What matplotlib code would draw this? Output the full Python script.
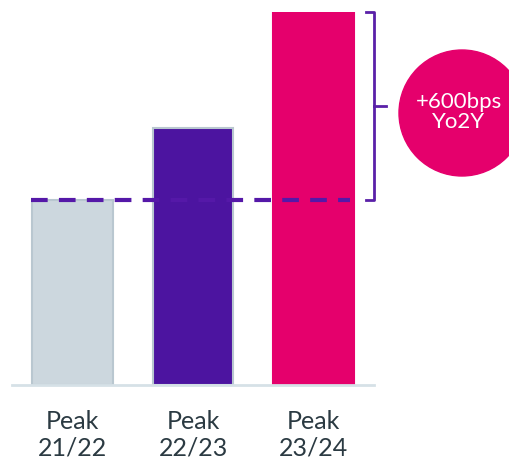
import matplotlib
matplotlib.use("Agg")
import matplotlib.pyplot as plt
from matplotlib.patches import Circle

# chart data (in %)
periods = ["Peak\n21/22", "Peak\n22/23", "Peak\n23/24"]
values = [5.9, 8.2, 11.9]
bar_colors = ["#ccd7de", "#4c14a0", "#e5006c"]
edge_colors = ["#b9c7d0", "#b9c7d0", "#e5006c"]
change_label = "+600bps\nYo2Y"

plt.rcParams['font.family'] = ['Lato', 'DejaVu Sans']

fig = plt.figure(figsize=(5.10, 4.66), dpi=100)
ax = fig.add_axes([12 / 510, 81 / 466, 362 / 510, 373 / 466])

x = list(range(len(values)))
ax.bar(x, values, width=0.67, color=bar_colors, edgecolor=edge_colors, linewidth=1.5, zorder=2)

# dashed reference line at the first bar's level
ax.plot([-0.34, 2.3], [values[0], values[0]], color="#5518a8", linewidth=3,
        linestyle=(0, (4, 2.7)), zorder=3)

# bracket between first and last bar
bx = 2.5
bc = "#5a20a8"
ax.plot([bx - 0.066, bx, bx, bx - 0.066], [values[-1], values[-1], values[0], values[0]],
        color=bc, linewidth=2, clip_on=False, zorder=4)
mid = (values[0] + values[-1]) / 2
ax.plot([bx, bx + 0.1], [mid, mid], color=bc, linewidth=2, clip_on=False, zorder=4)

ax.set_xlim(-0.5, 2.5)
ax.set_ylim(0, values[-1])
for s in ["top", "right", "left"]:
    ax.spines[s].set_visible(False)
ax.spines["bottom"].set_color("#d6e1e7")
ax.spines["bottom"].set_linewidth(2)
ax.set_yticks([])
ax.set_xticks([])

for xi, lab in zip(x, periods):
    ax.text(xi, -0.8, lab, ha="center", va="top", fontsize=18, color="#2b3a42",
            linespacing=1.2)

# circle badge
circ = Circle((4.62, 3.53), 0.63, transform=fig.dpi_scale_trans, color="#e5006c",
              clip_on=False)
fig.add_artist(circ)
fig.text(4.59 / 5.10, 3.54 / 4.66, change_label, ha="center", va="center", color="white",
         fontsize=16, linespacing=1.05)

fig.savefig("out.png", dpi=100)
